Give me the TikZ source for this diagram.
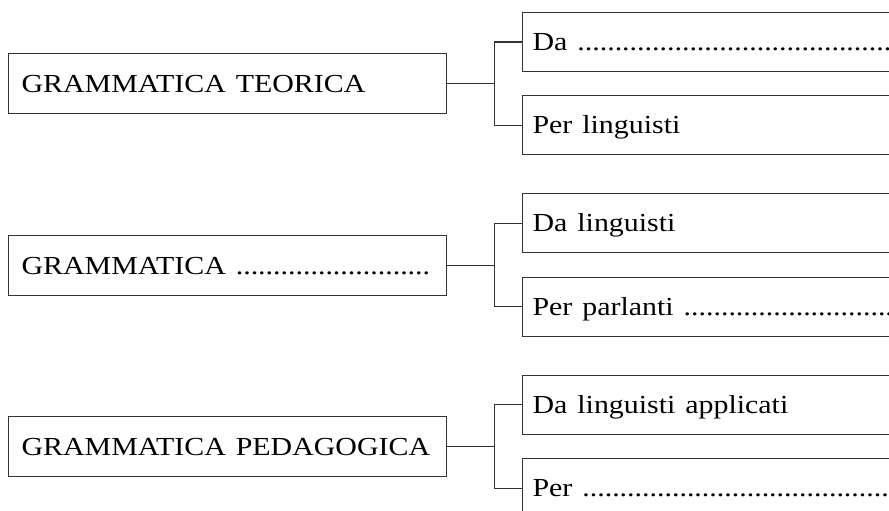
\documentclass[tikz,border=0pt]{standalone}
\usepackage{fontspec}
\setmainfont{Liberation Serif}
\usepackage{graphicx}
\newcommand{\stx}[1]{\scalebox{1.15}[1]{#1}}
\tikzset{
  ln/.style={line width=1.1pt, draw=black!80, line join=miter},
  boxtext/.style={rectangle, ln, inner ysep=0pt, align=left,
    text height=17.2pt, text depth=0pt, font=\fontsize{26}{30}\selectfont},
  leftbox/.style={boxtext, anchor=north west, minimum width=438pt,
    minimum height=60pt, inner xsep=13pt, text width=412pt},
  rightbox/.style={boxtext, anchor=north west, minimum width=500pt,
    minimum height=59pt, inner xsep=10pt, text width=480pt},
}
\begin{document}
\begin{tikzpicture}[x=1pt,y=-1pt]
\useasboundingbox (0,0) rectangle (889,511);
\clip (0,0) rectangle (889,511);
% group 1
\node[leftbox] (L1) at (8,53) {\stx{GRAMMATICA TEORICA}};
\node[rightbox] (R1a) at (522,12) {\stx{Da ..................................................}};
\node[rightbox] (R1b) at (522,95) {\stx{Per linguisti}};
% group 2
\node[leftbox] (L2) at (8,235) {\stx{GRAMMATICA ..........................}};
\node[rightbox] (R2a) at (522,193.3) {\stx{Da linguisti}};
\node[rightbox] (R2b) at (522,276.7) {\stx{Per parlanti ........................................}};
% group 3
\node[leftbox] (L3) at (8,416) {\stx{GRAMMATICA PEDAGOGICA}};
\node[rightbox] (R3a) at (522,374.5) {\stx{Da linguisti applicati}};
\node[rightbox] (R3b) at (522,458) {\stx{Per ..................................................}};
% connectors
\foreach \g in {1,2,3}{
  \coordinate (J\g) at ([xshift=47pt]L\g.east);
  \draw[ln] (L\g.east) -- (J\g);
  \draw[ln] (R\g a.west) -| (J\g) |- (R\g b.west);
}
\end{tikzpicture}
\end{document}
